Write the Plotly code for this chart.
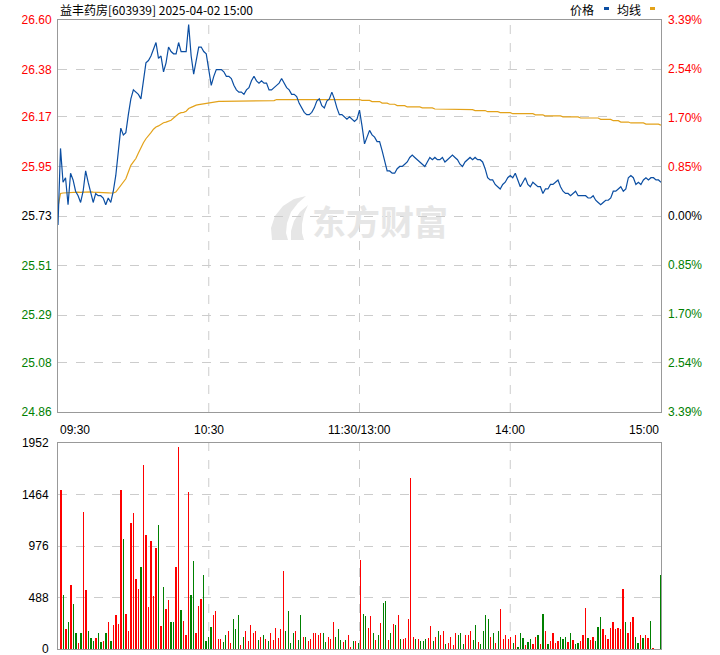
import plotly.graph_objects as go

# ---------------- data ----------------
title_text = "益丰药房[603939] 2025-04-02 15:00"
prev_close = 25.73

time_labels = ["09:30", "10:30", "11:30/13:00", "14:00", "15:00"]
time_label_pos = [0, 60, 120, 180, 240]

price_ticks = [24.86, 25.08, 25.29, 25.51, 25.73, 25.95, 26.17, 26.38, 26.60]
pct_ticks = [-3.39, -2.54, -1.70, -0.85, 0.00, 0.85, 1.70, 2.54, 3.39]
pct_labels = ["3.39%", "2.54%", "1.70%", "0.85%", "0.00%", "0.85%", "1.70%", "2.54%", "3.39%"]
vol_ticks = [0, 488, 976, 1464, 1952]

price = [
    25.69, 26.03, 25.88, 25.90, 25.78, 25.92, 25.89, 25.84, 25.82, 25.79,
    25.84, 25.93, 25.88, 25.84, 25.79, 25.83, 25.82, 25.82, 25.81, 25.78,
    25.81, 25.79, 25.84, 25.91, 26.01, 26.12, 26.09, 26.10, 26.18, 26.25,
    26.29, 26.28, 26.27, 26.25, 26.32, 26.41, 26.42, 26.44, 26.47, 26.50,
    26.43, 26.44, 26.37, 26.41, 26.48, 26.46, 26.45, 26.45, 26.50, 26.46,
    26.46, 26.46, 26.58, 26.44, 26.36, 26.43, 26.48, 26.48, 26.46, 26.45,
    26.37, 26.31, 26.35, 26.38, 26.38, 26.38, 26.37, 26.35, 26.35, 26.34,
    26.31, 26.29, 26.28, 26.28, 26.27, 26.29, 26.30, 26.33, 26.35, 26.33,
    26.32, 26.33, 26.32, 26.32, 26.29, 26.29, 26.30, 26.31, 26.32, 26.34,
    26.32, 26.30, 26.29, 26.27, 26.27, 26.26, 26.23, 26.21, 26.19, 26.18,
    26.18, 26.19, 26.21, 26.24, 26.25, 26.22, 26.21, 26.24, 26.25, 26.28,
    26.25, 26.21, 26.18, 26.18, 26.17, 26.16, 26.17, 26.16, 26.15, 26.16,
    26.20, 26.13, 26.05, 26.08, 26.11, 26.09, 26.08, 26.06, 26.06, 26.02,
    25.97, 25.93, 25.93, 25.92, 25.92, 25.94, 25.95, 25.95, 25.96, 25.97,
    25.99, 26.00, 25.99, 25.98, 25.97, 25.96, 25.95, 25.97, 25.99, 25.98,
    25.99, 25.98, 25.98, 25.99, 25.97, 25.98, 25.99, 26.00, 25.99, 25.98,
    25.96, 25.95, 25.97, 25.98, 25.99, 25.98, 25.99, 25.98, 25.98, 25.97,
    25.94, 25.90, 25.89, 25.89, 25.87, 25.86, 25.85, 25.87, 25.88, 25.90,
    25.91, 25.90, 25.92, 25.89, 25.86, 25.88, 25.90, 25.87, 25.86, 25.88,
    25.87, 25.86, 25.86, 25.83, 25.85, 25.85, 25.87, 25.87, 25.88, 25.89,
    25.86, 25.84, 25.83, 25.83, 25.82, 25.83, 25.84, 25.82, 25.82, 25.82,
    25.82, 25.81, 25.81, 25.82, 25.80, 25.79, 25.78, 25.79, 25.80, 25.80,
    25.81, 25.84, 25.84, 25.85, 25.86, 25.84, 25.85, 25.90, 25.91, 25.90,
    25.87, 25.88, 25.87, 25.89, 25.90, 25.89, 25.90, 25.90, 25.89, 25.89,
    25.88,
]

avg_price = [
    25.770, 25.830, 25.832, 25.833, 25.833, 25.836, 25.837, 25.837, 25.836, 25.835,
    25.836, 25.838, 25.838, 25.837, 25.836, 25.836, 25.835, 25.835, 25.834, 25.833,
    25.833, 25.832, 25.832, 25.836, 25.850, 25.868, 25.880, 25.895, 25.925, 25.955,
    25.970, 25.985, 26.010, 26.036, 26.055, 26.073, 26.085, 26.100, 26.115, 26.125,
    26.130, 26.137, 26.144, 26.147, 26.150, 26.155, 26.165, 26.175, 26.184, 26.189,
    26.190, 26.195, 26.207, 26.212, 26.218, 26.222, 26.224, 26.226, 26.230, 26.232,
    26.232, 26.234, 26.236, 26.239, 26.239, 26.239, 26.239, 26.239, 26.239, 26.239,
    26.242, 26.242, 26.242, 26.242, 26.242, 26.242, 26.242, 26.242, 26.242, 26.242,
    26.242, 26.242, 26.242, 26.242, 26.242, 26.242, 26.242, 26.247, 26.247, 26.247,
    26.247, 26.247, 26.247, 26.247, 26.247, 26.247, 26.247, 26.247, 26.247, 26.247,
    26.247, 26.247, 26.247, 26.247, 26.247, 26.247, 26.247, 26.247, 26.247, 26.247,
    26.247, 26.247, 26.247, 26.247, 26.247, 26.247, 26.247, 26.247, 26.247, 26.247,
    26.247, 26.243, 26.243, 26.243, 26.243, 26.238, 26.238, 26.238, 26.238, 26.231,
    26.231, 26.231, 26.226, 26.226, 26.226, 26.220, 26.220, 26.220, 26.220, 26.214,
    26.214, 26.214, 26.214, 26.214, 26.214, 26.210, 26.210, 26.210, 26.210, 26.210,
    26.205, 26.205, 26.205, 26.205, 26.205, 26.205, 26.205, 26.205, 26.205, 26.202,
    26.202, 26.202, 26.202, 26.202, 26.202, 26.202, 26.198, 26.198, 26.198, 26.198,
    26.198, 26.193, 26.193, 26.193, 26.193, 26.193, 26.189, 26.189, 26.189, 26.189,
    26.189, 26.184, 26.184, 26.184, 26.184, 26.184, 26.184, 26.184, 26.184, 26.184,
    26.179, 26.179, 26.179, 26.179, 26.174, 26.174, 26.174, 26.174, 26.174, 26.174,
    26.174, 26.170, 26.170, 26.170, 26.170, 26.170, 26.170, 26.170, 26.165, 26.165,
    26.165, 26.165, 26.165, 26.165, 26.165, 26.165, 26.159, 26.159, 26.159, 26.159,
    26.159, 26.153, 26.153, 26.153, 26.147, 26.147, 26.147, 26.147, 26.143, 26.143,
    26.143, 26.143, 26.143, 26.143, 26.138, 26.138, 26.138, 26.138, 26.138, 26.138,
    26.133,
]

volume = [
    1502, 510, 191, 252, 606, 424, 156, 61, 147, 1295,
    558, 175, 108, 80, 108, 156, 70, 80, 147, 252,
    80, 223, 319, 233, 1502, 1046, 329, 175, 1190, 1286,
    664, 568, 778, 1745, 1085, 396, 1027, 501, 960, 1171,
    214, 587, 376, 463, 252, 252, 778, 1917, 367, 262,
    137, 1487, 510, 836, 156, 405, 472, 702, 80, 118,
    204, 319, 357, 99, 99, 70, 137, 175, 61, 281,
    185, 319, 41, 118, 175, 80, 223, 147, 166, 89,
    118, 137, 99, 80, 147, 89, 195, 108, 185, 740,
    175, 357, 61, 156, 166, 89, 319, 118, 118, 80,
    99, 147, 156, 128, 147, 147, 70, 118, 99, 252,
    118, 185, 89, 70, 89, 137, 22, 80, 80, 61,
    845, 329, 309, 195, 309, 156, 89, 128, 242, 434,
    453, 89, 147, 233, 223, 319, 99, 99, 108, 281,
    1621, 118, 99, 99, 80, 80, 99, 108, 214, 80,
    118, 175, 128, 166, 51, 61, 118, 41, 156, 137,
    156, 51, 137, 128, 175, 89, 223, 70, 51, 175,
    319, 281, 118, 147, 61, 175, 376, 99, 128, 99,
    118, 61, 128, 22, 147, 108, 41, 70, 99, 51,
    118, 137, 51, 329, 166, 51, 80, 156, 61, 80,
    118, 99, 118, 70, 147, 89, 51, 61, 80, 137,
    386, 108, 89, 118, 80, 204, 300, 185, 137, 99,
    195, 252, 185, 195, 185, 568, 252, 156, 252, 300,
    118, 61, 128, 108, 128, 108, 262, 13, 0, 0,
    702,
]

# 1 = up (red), -1 = down (green)
vol_dir = [
    1, -1, 1, -1, 1, -1, -1, 1, -1, 1,
    1, -1, -1, -1, 1, -1, -1, 1, -1, 1,
    -1, 1, 1, 1, 1, -1, 1, 1, 1, 1,
    1, 1, -1, 1, 1, 1, 1, 1, 1, -1,
    1, -1, 1, 1, -1, -1, 1, 1, -1, 1,
    1, 1, -1, -1, 1, 1, 1, -1, -1, -1,
    -1, 1, 1, 1, 1, -1, -1, 1, 1, -1,
    -1, -1, 1, -1, 1, 1, 1, 1, 1, -1,
    1, -1, 1, -1, 1, 1, 1, 1, 1, 1,
    -1, -1, -1, -1, 1, -1, -1, 1, -1, 1,
    1, 1, 1, 1, 1, -1, -1, 1, 1, 1,
    -1, -1, -1, 1, -1, 1, 1, -1, 1, -1,
    1, -1, -1, 1, 1, -1, 1, -1, 1, -1,
    -1, 1, -1, 1, -1, 1, -1, 1, 1, 1,
    1, 1, -1, 1, -1, -1, -1, 1, 1, -1,
    1, -1, 1, 1, -1, 1, 1, 1, 1, -1,
    -1, -1, 1, 1, 1, -1, -1, 1, -1, -1,
    -1, -1, 1, -1, 1, -1, 1, 1, 1, 1,
    1, -1, 1, -1, -1, -1, 1, -1, -1, 1,
    1, -1, 1, -1, 1, -1, 1, 1, 1, 1,
    -1, -1, -1, 1, -1, 1, -1, -1, 1, 1,
    1, -1, 1, 1, -1, -1, -1, 1, 1, 1,
    1, 1, 1, 1, 1, 1, -1, 1, 1, 1,
    -1, -1, 1, -1, 1, 1, -1, 1, 1, 1,
    -1,
]

# ---------------- styling / layout ----------------
RED, GREEN, BLACK = "#ff0000", "#008000", "#000000"
BLUE_LINE, AVG_LINE = "#0b4ea2", "#e3a21a"
FRAME, GRID = "#999999", "#cccccc"
WATERMARK = "#e6e6e6"
FONT = "Liberation Sans"
CJK = "Noto Sans CJK SC"

W, H = 720, 655
PL, PR, PT, PB = 58, 661, 20, 649  # plot box in pixels


def px(X):
    return (X - PL) / (PR - PL)


def py(Y):
    return (PB - Y) / (PB - PT)


minutes = list(range(len(price)))
bar_colors = [RED if d > 0 else GREEN for d in vol_dir]


def color_for(v, ref):
    if abs(v - ref) < 1e-9:
        return BLACK
    return RED if v > ref else GREEN


price_ticktext = [f"<span style='color:{color_for(v, prev_close)}'>{v:.2f}</span>" for v in price_ticks]
pct_ticktext = [f"<span style='color:{color_for(v, 0)}'>{t}</span>" for v, t in zip(pct_ticks, pct_labels)]

fig = go.Figure()
fig.add_trace(go.Scatter(x=minutes, y=avg_price, mode="lines", line=dict(color=AVG_LINE, width=1.2),
                         xaxis="x", yaxis="y", hoverinfo="skip"))
fig.add_trace(go.Scatter(x=minutes, y=price, mode="lines", line=dict(color=BLUE_LINE, width=1.2),
                         xaxis="x", yaxis="y"))
fig.add_trace(go.Bar(x=minutes, y=volume, marker=dict(color=bar_colors, line=dict(width=0)),
                     width=0.5, xaxis="x2", yaxis="y3"))

axis_common = dict(showline=True, mirror=True, linecolor=FRAME, linewidth=1, zeroline=False,
                   fixedrange=True, automargin=False)

fig.update_layout(
    width=W, height=H, autosize=False,
    margin=dict(l=PL, r=W - PR, t=PT, b=H - PB, pad=0, autoexpand=False),
    paper_bgcolor="white", plot_bgcolor="white",
    showlegend=False, bargap=0,
    font=dict(family=FONT, size=12, color=BLACK),
    xaxis=dict(domain=[0, 1], range=[0, 240], anchor="y", showgrid=False, showticklabels=False,
               ticks="", **axis_common),
    yaxis=dict(domain=[py(412), 1], range=[price_ticks[0], price_ticks[-1]], anchor="x",
               tickvals=price_ticks, ticktext=price_ticktext, ticks="",
               showgrid=True, gridcolor=GRID, griddash="dash", gridwidth=1, ticklabeloverflow="allow",
               tickfont=dict(family=FONT, size=12), ticklabelstandoff=3, **axis_common),
    yaxis2=dict(overlaying="y", side="right", anchor="x", range=[pct_ticks[0], pct_ticks[-1]],
                tickvals=pct_ticks, ticktext=pct_ticktext, ticks="", showgrid=False, zeroline=False,
                showline=False, fixedrange=True, automargin=False, ticklabeloverflow="allow",
                tickfont=dict(family=FONT, size=12), ticklabelstandoff=6),
    xaxis2=dict(domain=[0, 1], range=[-1.2, 240.2], anchor="y3", showgrid=False, showticklabels=False,
                ticks="", **axis_common),
    yaxis3=dict(domain=[0, py(443)], range=[0, vol_ticks[-1]], anchor="x2", tickvals=vol_ticks,
                ticks="", showgrid=True, gridcolor=GRID, griddash="dash", gridwidth=1,
                ticklabeloverflow="allow",
                tickfont=dict(family=FONT, size=12, color=BLACK), ticklabelstandoff=6, **axis_common),
)

# invisible helper so the % axis is drawn
fig.add_trace(go.Scatter(x=[0, 240], y=[pct_ticks[0], pct_ticks[-1]], mode="markers",
                         marker=dict(opacity=0), xaxis="x", yaxis="y2", hoverinfo="skip"))

shapes = []
for t in time_label_pos[1:-1]:
    for yref in ("y domain", "y3 domain"):
        shapes.append(dict(type="line", xref="x", yref=yref, x0=t, x1=t, y0=0, y1=1,
                           line=dict(color=GRID, width=1, dash="dash"), layer="below"))
# legend swatches
shapes.append(dict(type="rect", xref="paper", yref="paper", x0=px(604), x1=px(609), y0=py(10), y1=py(7),
                   fillcolor=BLUE_LINE, line=dict(width=0)))
shapes.append(dict(type="rect", xref="paper", yref="paper", x0=px(650), x1=px(655), y0=py(10), y1=py(7),
                   fillcolor=AVG_LINE, line=dict(width=0)))


# watermark logo (light swoosh), pixel points -> paper path
def ppath(points):
    s = "M " + " L ".join(f"{px(a):.5f},{py(b):.5f}" for a, b in points) + " Z"
    return s


logo_outer = [(272, 240), (271, 228), (275, 216), (283, 206), (294, 199), (306, 196),
              (298, 203), (291, 212), (287, 223), (286, 233), (288, 240)]
logo_inner = [(291, 240), (291, 231), (294, 221), (300, 212), (308, 205),
              (304, 214), (302, 224), (302, 233), (304, 240)]
for pts in (logo_outer, logo_inner):
    shapes.append(dict(type="path", xref="paper", yref="paper", path=ppath(pts),
                       fillcolor=WATERMARK, line=dict(width=0), layer="below"))
fig.update_layout(shapes=shapes)

ann = []
anchors = ["left", "center", "center", "center", "right"]
for t, lab, a in zip(time_label_pos, time_labels, anchors):
    ann.append(dict(x=t, xref="x", y=py(430), yref="paper", text=lab, showarrow=False, xanchor=a,
                    yanchor="middle", font=dict(family=FONT, size=12, color=BLACK)))
ann.append(dict(x=0, xref="paper", y=py(9), yref="paper", text=title_text, showarrow=False,
                xanchor="left", yanchor="middle", font=dict(family=CJK, size=12, color=BLACK)))
ann.append(dict(x=px(596), xref="paper", y=py(9), yref="paper", text="价格", showarrow=False,
                xanchor="right", yanchor="middle", font=dict(family=CJK, size=12, color=BLACK)))
ann.append(dict(x=px(643), xref="paper", y=py(9), yref="paper", text="均线", showarrow=False,
                xanchor="right", yanchor="middle", font=dict(family=CJK, size=12, color=BLACK)))
# watermark text
ann.append(dict(x=px(380), xref="paper", y=py(220), yref="paper", text="<b>东方财富</b>", showarrow=False,
                xanchor="center", yanchor="middle", font=dict(family=CJK, size=34, color=WATERMARK)))
fig.update_layout(annotations=ann)

fig.write_html("out.html", config={"displayModeBar": False, "staticPlot": True},
               post_script="document.body.style.margin='0';document.body.style.overflow='hidden';")
